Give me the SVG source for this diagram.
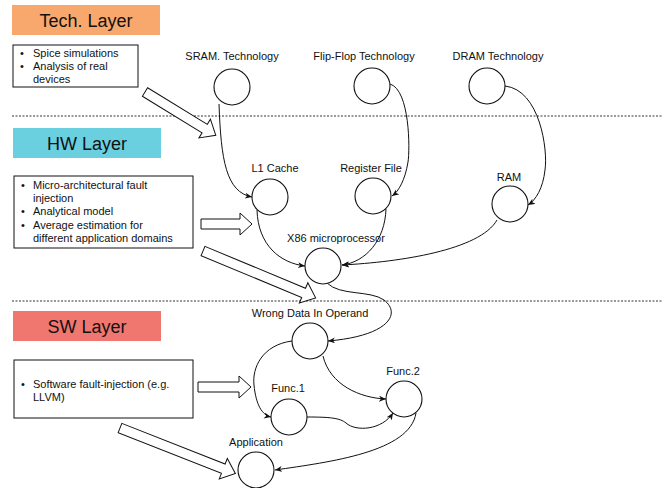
<svg xmlns="http://www.w3.org/2000/svg" width="671" height="488" viewBox="0 0 671 488">
<defs>
<style>
text{font-family:"Liberation Sans",Arial,sans-serif;fill:#111}
.title{font-size:18px;text-anchor:middle}
.lbl{font-size:11px;text-anchor:middle}
.bt{font-size:11px}
.box{fill:#fff;stroke:#111;stroke-width:1}
.node{fill:#fff;stroke:#111;stroke-width:1.1}
.conn{fill:none;stroke:#111;stroke-width:1}
.barrow{fill:#fff;stroke:#111;stroke-width:1}
.sep{stroke:#333;stroke-width:1;stroke-dasharray:2,1.5}
</style>
<marker id="ah" markerUnits="userSpaceOnUse" markerWidth="9" markerHeight="8" refX="7" refY="3" orient="auto">
<path d="M0,0 L7,3 L0,6 L2,3 z" fill="#111"/>
</marker>
</defs>
<rect width="671" height="488" fill="#fff"/>

<!-- separators -->
<line class="sep" x1="12" y1="116" x2="662" y2="116"/>
<line class="sep" x1="12" y1="301" x2="662" y2="301"/>

<!-- layer titles -->
<g id="tech-layer">
<rect x="12" y="5" width="148" height="30" fill="#F8A86D"/>
<text class="title" x="86" y="27">Tech. Layer</text>
</g>
<g id="hw-layer">
<rect x="13" y="128" width="148" height="30" fill="#6ACFDF"/>
<text class="title" x="87" y="150">HW Layer</text>
</g>
<g id="sw-layer">
<rect x="13" y="311" width="148" height="30" fill="#F0776F"/>
<text class="title" x="87" y="333">SW Layer</text>
</g>

<!-- text boxes -->
<g id="tech-notes">
<rect class="box" x="13" y="45" width="125" height="42"/>
<text class="bt" x="20" y="57">•</text><text class="bt" x="33" y="57">Spice simulations</text>
<text class="bt" x="20" y="70">•</text><text class="bt" x="33" y="70">Analysis of real</text>
<text class="bt" x="33" y="83">devices</text>
</g>
<g id="hw-notes">
<rect class="box" x="14" y="176" width="179" height="72"/>
<text class="bt" x="21" y="189">•</text><text class="bt" x="33" y="189">Micro-architectural fault</text>
<text class="bt" x="33" y="202">injection</text>
<text class="bt" x="21" y="215">•</text><text class="bt" x="33" y="215">Analytical model</text>
<text class="bt" x="21" y="229">•</text><text class="bt" x="33" y="229">Average estimation for</text>
<text class="bt" x="33" y="242">different application domains</text>
</g>
<g id="sw-notes">
<rect class="box" x="14" y="360" width="179" height="58"/>
<text class="bt" x="21" y="388">•</text><text class="bt" x="33" y="388">Software fault-injection (e.g.</text>
<text class="bt" x="33" y="401">LLVM)</text>
</g>

<!-- block arrows -->
<g id="block-arrows">
<polygon class="barrow" transform="translate(145,92) rotate(31.5)" points="0,-5 70,-5 70,-11 83,0 70,11 70,5 0,5"/>
<polygon class="barrow" points="201,219 240,219 240,213 252,224 240,235 240,229 201,229"/>
<polygon class="barrow" transform="translate(203,251) rotate(22.6)" points="0,-5 109,-5 109,-11 122,0 109,11 109,5 0,5"/>
<polygon class="barrow" points="198,382 239,382 239,376 251,387 239,398 239,392 198,392"/>
<polygon class="barrow" transform="translate(120,428) rotate(21.5)" points="0,-5 111,-5 111,-11 124,0 111,11 111,5 0,5"/>
</g>

<!-- connectors -->
<g id="connectors">
<path class="conn" marker-end="url(#ah)" d="M219,104 C221,160 226,192 252,197"/>
<path class="conn" marker-end="url(#ah)" d="M390,84 C410,90 410,150 408,162 C405,180 399,191 392,196"/>
<path class="conn" marker-end="url(#ah)" d="M505,86 C540,90 548,150 545,170 C543,188 536,200 528,205"/>
<path class="conn" marker-end="url(#ah)" d="M257,210 C258,245 280,263 305,266"/>
<path class="conn" marker-end="url(#ah)" d="M386,209 C385,240 366,262 342,265"/>
<path class="conn" marker-end="url(#ah)" d="M497,220 C480,250 400,262 342,265"/>
<path class="conn" marker-end="url(#ah)" d="M327,283 C340,296 370,290 384,300 C402,314 388,336 328,341"/>
<path class="conn" marker-end="url(#ah)" d="M292,341 C262,345 252,368 254,385 C256,405 262,415 271,417"/>
<path class="conn" marker-end="url(#ah)" d="M323,356 C330,385 360,398 386,399"/>
<path class="conn" marker-end="url(#ah)" d="M307,417 C330,417 340,418 346,423 C356,432 382,430 393,413"/>
<path class="conn" marker-end="url(#ah)" d="M416,413 C410,452 330,462 275,470"/>
</g>

<!-- nodes -->
<g id="sram"><circle class="node" cx="232" cy="87" r="18"/><text class="lbl" x="232" y="60">SRAM. Technology</text></g>
<g id="flipflop"><circle class="node" cx="372" cy="86" r="18"/><text class="lbl" x="364" y="60">Flip-Flop Technology</text></g>
<g id="dram"><circle class="node" cx="487" cy="86" r="18"/><text class="lbl" x="498" y="60">DRAM Technology</text></g>
<g id="l1cache"><circle class="node" cx="270" cy="197" r="18"/><text class="lbl" x="275" y="172">L1 Cache</text></g>
<g id="regfile"><circle class="node" cx="373" cy="196" r="18"/><text class="lbl" x="371" y="172">Register File</text></g>
<g id="ram"><circle class="node" cx="510" cy="204" r="18"/><text class="lbl" x="509" y="181">RAM</text></g>
<g id="x86"><circle class="node" cx="323" cy="266" r="18"/><text class="lbl" x="336" y="242">X86 microprocessor</text></g>
<g id="wrongdata"><circle class="node" cx="310" cy="341" r="18"/><text class="lbl" x="310" y="317">Wrong Data In Operand</text></g>
<g id="func1"><circle class="node" cx="289" cy="417" r="18"/><text class="lbl" x="288" y="392">Func.1</text></g>
<g id="func2"><circle class="node" cx="404" cy="399" r="18"/><text class="lbl" x="403" y="375">Func.2</text></g>
<g id="application"><circle class="node" cx="256" cy="470" r="18"/><text class="lbl" x="256" y="446">Application</text></g>
</svg>
